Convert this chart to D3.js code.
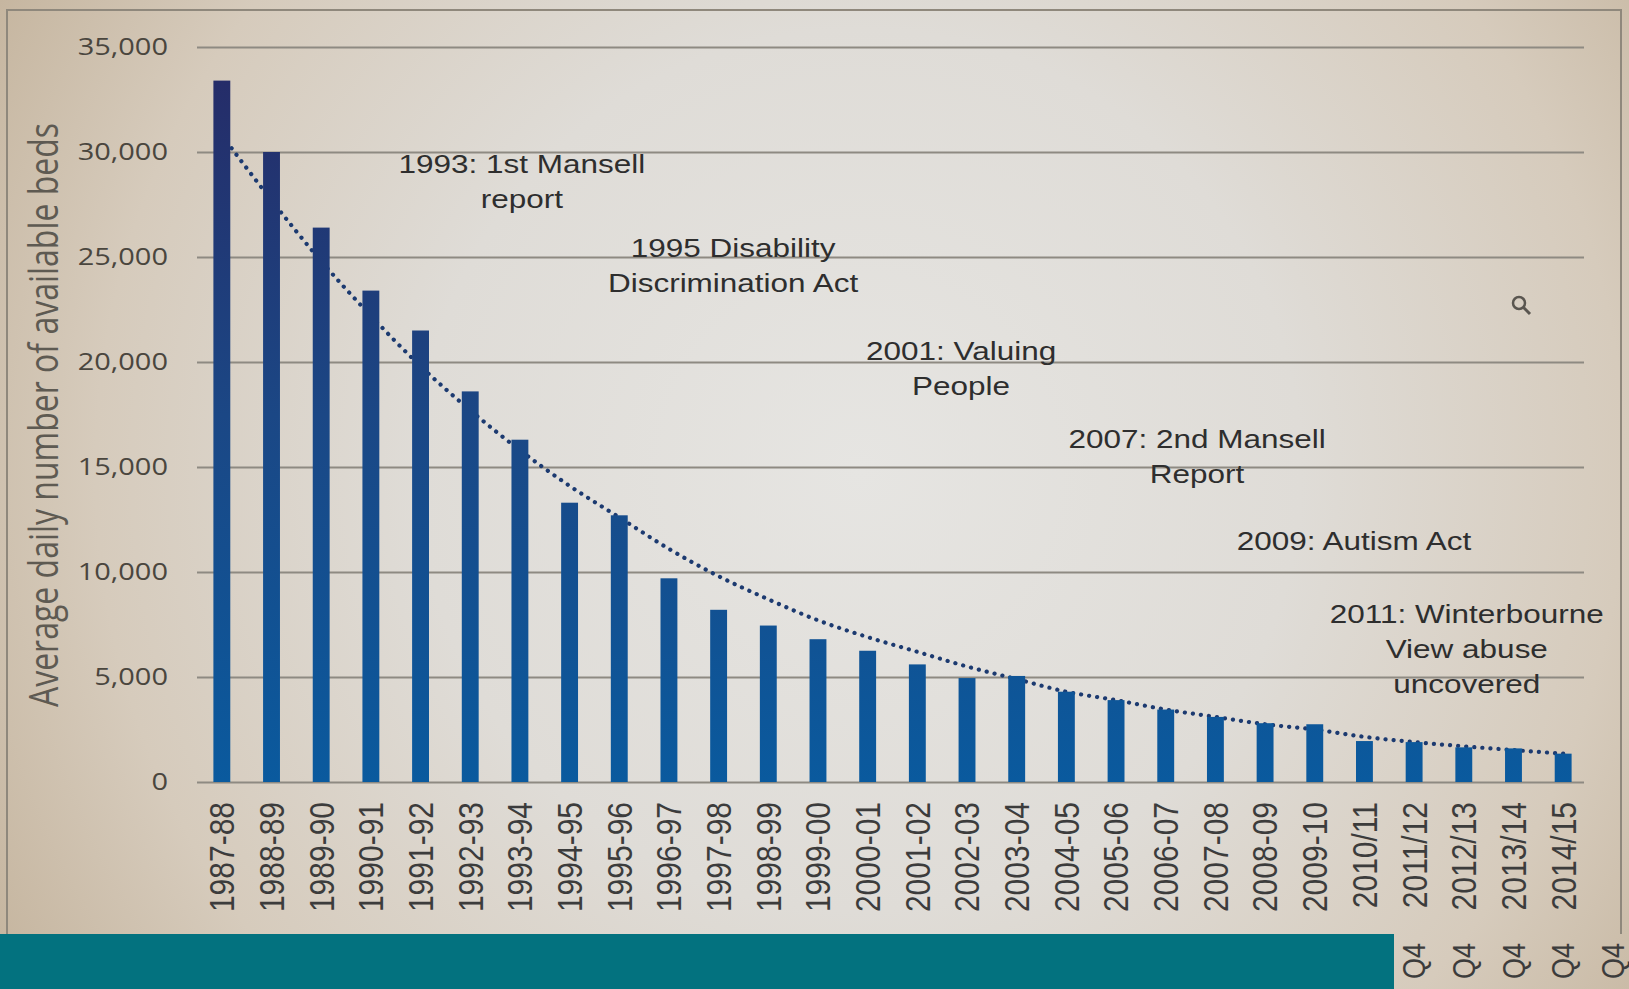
<!DOCTYPE html>
<html>
<head>
<meta charset="utf-8">
<script src="https://cdn.jsdelivr.net/npm/d3@7"></script>
<style>
  body { margin: 0; overflow: hidden; }
  svg { display: block; }
</style>
</head>
<body>
<svg width="1629" height="989"></svg>
<script>
const categories = [
  "1987-88", "1988-89", "1989-90", "1990-91", "1991-92", "1992-93", "1993-94",
  "1994-95", "1995-96", "1996-97", "1997-98", "1998-99", "1999-00", "2000-01",
  "2001-02", "2002-03", "2003-04", "2004-05", "2005-06", "2006-07", "2007-08",
  "2008-09", "2009-10", "2010/11", "2011/12", "2012/13", "2013/14", "2014/15",
];

// average daily number of available beds
const beds = [
  33400, 30000, 26400, 23400, 21500, 18600, 16300,
  13300, 12700, 9700, 8200, 7450, 6800, 6250,
  5600, 4950, 5050, 4300, 3900, 3450, 3100,
  2800, 2750, 1950, 1900, 1650, 1600, 1350,
];

const trend = [
  30800, 27700, 24800, 22200, 19800, 17700, 15800,
  14100, 12600, 11100, 9800, 8700, 7700, 6900,
  6200, 5500, 4900, 4300, 3900, 3450, 3100,
  2750, 2500, 2150, 1900, 1700, 1520, 1350,
];

const yTicks = [0, 5000, 10000, 15000, 20000, 25000, 30000, 35000];

const quarterCats = ["2010/11", "2011/12", "2012/13", "2013/14", "2014/15"];

const notes = [
  ["1993: 1st Mansell", "report"],
  ["1995 Disability", "Discrimination Act"],
  ["2001: Valuing", "People"],
  ["2007: 2nd Mansell", "Report"],
  ["2009: Autism Act"],
  ["2011: Winterbourne", "View abuse", "uncovered"],
];

const SX = 1.26; // the photo is stretched sideways, so is the text

function loaded() {
  const svg = d3.select("svg"),
    width = +svg.attr("width"),
    height = +svg.attr("height"),
    x = d3.scaleBand().domain(categories).range([197, 1588])
      .paddingInner(0.66).paddingOuter(0.33),
    y = d3.scaleLinear().domain([0, 35000]).range([782, 47]);

  const cx = (c) => x(c) + x.bandwidth() / 2;

  const defs = svg.append("defs");
  const bg = defs.append("radialGradient").attr("id", "bg")
    .attr("gradientUnits", "userSpaceOnUse")
    .attr("cx", 860).attr("cy", 470).attr("r", 980);
  [[0, "#e6e5e2"], [0.45, "#dfdcd7"], [0.78, "#d6cbbc"], [1, "#c6b6a0"]]
    .forEach(([o, c]) => bg.append("stop").attr("offset", o).attr("stop-color", c));

  const barFill = defs.append("linearGradient").attr("id", "barFill")
    .attr("gradientUnits", "userSpaceOnUse")
    .attr("x1", 0).attr("x2", 0).attr("y1", y(35000)).attr("y2", y(0));
  [[0, "#262a66"], [0.5, "#1b4785"], [1, "#0a5a9e"]]
    .forEach(([o, c]) => barFill.append("stop").attr("offset", o).attr("stop-color", c));

  svg.append("rect").attr("width", width).attr("height", height).attr("fill", "url(#bg)");

  // chart frame
  svg.append("path")
    .attr("d", "M7,934V10H1621V934")
    .attr("fill", "none").attr("stroke", "#8f887c").attr("stroke-width", 2);

  // y axis with gridlines
  const gy = svg.append("g")
    .attr("transform", `translate(${x.range()[0]},0)`)
    .call(d3.axisLeft(y).tickValues(yTicks)
      .tickSize(-(x.range()[1] - 4 - x.range()[0]))
      .tickFormat(d3.format(",")));
  gy.select(".domain").remove();
  gy.selectAll("line").attr("stroke", "#8e8a82").attr("stroke-width", 2);
  gy.selectAll("text")
    .attr("x", 0)
    .attr("transform", `translate(-29,0) scale(${SX},1)`)
    .attr("font-family", "'Open Sans', sans-serif")
    .attr("font-size", 23)
    .attr("fill", "#4a463e");

  svg.append("text")
    .attr("transform", `translate(44,415) scale(${SX},1) rotate(-90)`)
    .attr("text-anchor", "middle")
    .attr("dy", "0.35em")
    .attr("font-family", "'Open Sans', sans-serif")
    .attr("font-size", 32)
    .attr("fill", "#5e5a52")
    .text("Average daily number of available beds");

  // trend line sits behind the bars
  const line = d3.line()
    .x((d, i) => cx(categories[i]))
    .y((d) => y(d))
    .curve(d3.curveMonotoneX);

  svg.append("path")
    .datum(trend)
    .attr("d", line)
    .attr("fill", "none")
    .attr("stroke", "#1c3a70")
    .attr("stroke-width", 4.2)
    .attr("stroke-linecap", "round")
    .attr("stroke-dasharray", "0.1 8");

  svg.selectAll(".bar")
    .data(categories.map((c, i) => ({ cat: c, value: beds[i] })))
    .enter()
    .append("rect")
    .attr("class", "bar")
    .attr("x", (d) => x(d.cat))
    .attr("y", (d) => y(d.value))
    .attr("width", x.bandwidth())
    .attr("height", (d) => y(0) - y(d.value))
    .attr("fill", "url(#barFill)");

  // x axis labels
  const gx = svg.append("g")
    .attr("transform", `translate(0,${y(0)})`)
    .call(d3.axisBottom(x).tickSize(0));
  gx.select(".domain").remove();
  gx.selectAll("text")
    .attr("y", 0)
    .attr("dy", "0.35em")
    .attr("text-anchor", "end")
    .attr("transform", `translate(0,20) scale(1.18,1) rotate(-90)`)
    .attr("font-family", "'Liberation Sans', Arial, sans-serif")
    .attr("font-size", 30)
    .attr("fill", "#3c3c3c");

  // annotations: fractional category index and value of the first line
  const notePlaces = [[6.04, 29400], [10.29, 25400], [14.88, 20500],
    [19.63, 16300], [22.79, 11450], [25.06, 8000]];

  notes.forEach((lines, k) => {
    const [fi, v] = notePlaces[k];
    const g = svg.append("g")
      .attr("transform", `translate(${cx(categories[0]) + fi * x.step()},${y(v)})`);
    g.selectAll("text")
      .data(lines)
      .enter()
      .append("text")
      .attr("transform", (d, j) => `translate(0,${j * 35}) scale(${SX},1)`)
      .attr("text-anchor", "middle")
      .attr("dy", "0.35em")
      .attr("font-family", "'Liberation Sans', Arial, sans-serif")
      .attr("font-size", 25)
      .attr("fill", "#2e2e2e")
      .text((d) => d);
  });

  // zoom cursor left on the screen
  const cur = svg.append("g").attr("transform", "translate(1519,303)")
    .attr("stroke", "#5a5650").attr("fill", "none");
  cur.append("circle").attr("r", 6).attr("stroke-width", 2.5);
  cur.append("line").attr("x1", 4).attr("y1", 4).attr("x2", 11).attr("y2", 11)
    .attr("stroke-width", 3);

  // second line of the last labels, pushed to the right
  svg.selectAll(".q4")
    .data(quarterCats)
    .enter()
    .append("text")
    .attr("class", "q4")
    .attr("transform", (d) =>
      `translate(${Math.min(cx(d) + x.step(), width - 16)},961) scale(1.18,1) rotate(-90)`)
    .attr("text-anchor", "middle")
    .attr("dy", "0.35em")
    .attr("font-family", "'Liberation Sans', Arial, sans-serif")
    .attr("font-size", 27)
    .attr("fill", "#3c3c3c")
    .text("Q4");

  // slide band over the bottom
  svg.append("rect")
    .attr("x", 0).attr("y", 934)
    .attr("width", 1394).attr("height", height - 934)
    .attr("fill", "#03727f");
}

loaded();
</script>
</body>
</html>
